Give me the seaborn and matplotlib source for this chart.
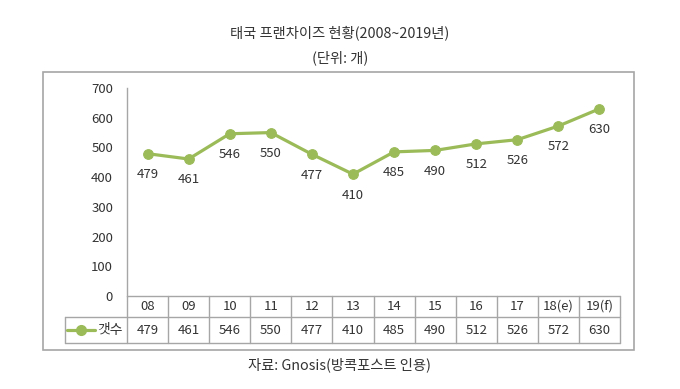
import matplotlib
matplotlib.use('Agg')
import matplotlib.pyplot as plt
import matplotlib.patches as mpatches
import seaborn as sns

# data
years = ['08', '09', '10', '11', '12', '13', '14', '15', '16', '17', '18(e)', '19(f)']
counts = [479, 461, 546, 550, 477, 410, 485, 490, 512, 526, 572, 630]
series_name = '갯수'
title = '태국 프랜차이즈 현황(2008~2019년)'
unit_note = '(단위: 개)'
source_note = '자료: Gnosis(방콕포스트 인용)'
yticks = [0, 100, 200, 300, 400, 500, 600, 700]

line_color = '#9BBB59'
grid_gray = '#A6A6A6'
text_color = '#333333'
fs = 9.5

sns.set_style('white')
plt.rcParams['font.family'] = ['Noto Sans CJK KR', 'DejaVu Sans']

W, H = 680, 389
fig = plt.figure(figsize=(W / 100, H / 100), dpi=100)

# plot area in pixels
px_left, px_right, px_top, px_bottom = 127, 620, 88, 296
ax = fig.add_axes([px_left / W, 1 - px_bottom / H,
                   (px_right - px_left) / W, (px_bottom - px_top) / H])

xpos = list(range(len(years)))
sns.lineplot(x=xpos, y=counts, ax=ax, color=line_color, linewidth=2.3,
             marker='o', markersize=7, markeredgecolor=line_color)

for x, v in zip(xpos, counts):
    ax.annotate(str(v), (x, v), xytext=(0, -15), textcoords='offset points',
                ha='center', va='center', fontsize=fs, color=text_color)

ax.set_xlim(-0.5, len(years) - 0.5)
ax.set_ylim(0, 700)
ax.set_yticks(yticks)
ax.set_xticks([])
ax.tick_params(axis='y', length=0, pad=10, labelsize=fs, labelcolor=text_color)
for s in ['top', 'right', 'bottom']:
    ax.spines[s].set_visible(False)
ax.spines['left'].set_color(grid_gray)
ax.spines['left'].set_linewidth(1)

# data table under the plot (x in data units, y in axes units)
ax_h = px_bottom - px_top
col_w = (px_right - px_left) / len(years)
tr = ax.get_xaxis_transform()
x_lab = -0.5 - 62 / col_w
x_end = len(years) - 0.5
y_mid = -21 / ax_h
y_bot = -47 / ax_h
line_kw = dict(transform=tr, color=grid_gray, linewidth=1, clip_on=False)

ax.plot([-0.5, x_end], [0, 0], **line_kw)
ax.plot([x_lab, x_end], [y_mid, y_mid], **line_kw)
ax.plot([x_lab, x_end], [y_bot, y_bot], **line_kw)
ax.plot([x_lab, x_lab], [y_mid, y_bot], **line_kw)
for i in range(len(years) + 1):
    ax.plot([i - 0.5, i - 0.5], [0, y_bot], **line_kw)

for x, yr, v in zip(xpos, years, counts):
    ax.text(x, y_mid / 2, yr, transform=tr, ha='center', va='center',
            fontsize=fs, color=text_color)
    ax.text(x, (y_mid + y_bot) / 2, str(v), transform=tr, ha='center', va='center',
            fontsize=fs, color=text_color)

# legend key inside the row label cell
row_y = (y_mid + y_bot) / 2
x0 = -0.5 + (67 - px_left) / col_w
x1 = -0.5 + (95 - px_left) / col_w
ax.plot([x0, x1], [row_y, row_y], transform=tr, color=line_color,
        linewidth=2.3, clip_on=False)
ax.plot([(x0 + x1) / 2], [row_y], transform=tr, marker='o', markersize=7,
        color=line_color, clip_on=False)
ax.text(-0.5 - 4 / col_w, row_y, series_name, transform=tr, ha='right', va='center',
        fontsize=10, color=text_color)

# outer chart border
fig.patches.append(mpatches.Rectangle((43 / W, 1 - 350 / H), (634 - 43) / W, (350 - 72) / H,
                                      transform=fig.transFigure, fill=False,
                                      edgecolor=grid_gray, linewidth=1.2))

fig.text(0.5, 1 - 33 / H, title, ha='center', va='center', fontsize=10.3, color=text_color)
fig.text(0.5, 1 - 58 / H, unit_note, ha='center', va='center', fontsize=10.3, color=text_color)
fig.text(0.5, 1 - 365 / H, source_note, ha='center', va='center', fontsize=10.3, color=text_color)

fig.savefig('out.png', dpi=100)
